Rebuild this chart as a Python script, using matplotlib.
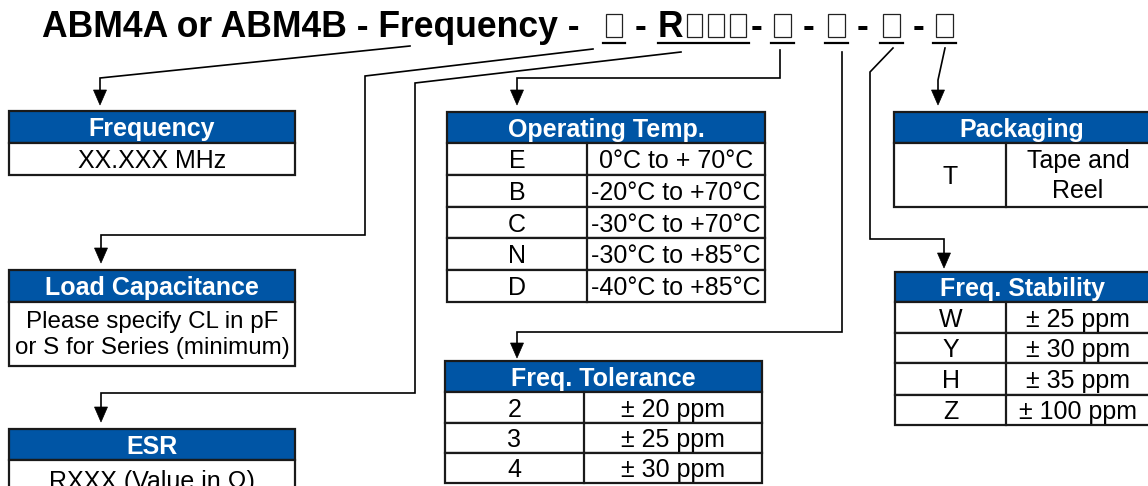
import matplotlib
matplotlib.use("Agg")
import matplotlib.pyplot as plt
from matplotlib.patches import Rectangle, Polygon

plt.rcParams['font.family'] = ['Liberation Sans', 'DejaVu Sans']

BLUE = '#0055a5'
EDGE = '#1a1a1a'

# part number pieces
title_main = "ABM4A or ABM4B - Frequency -"
title_dashes = ["-", "-", "-", "-", "-"]
title_letter = "R"

# tables
freq_title = "Frequency"
freq_rows = ["XX.XXX MHz"]

load_title = "Load Capacitance"
load_rows = ["Please specify CL in pF\nor S for Series (minimum)"]

esr_title = "ESR"
esr_rows = ["RXXX (Value in \u03a9)"]

temp_title = "Operating Temp."
temp_codes = ["E", "B", "C", "N", "D"]
temp_ranges = ["0\u00b0C to + 70\u00b0C", "-20\u00b0C to +70\u00b0C", "-30\u00b0C to +70\u00b0C",
               "-30\u00b0C to +85\u00b0C", "-40\u00b0C to +85\u00b0C"]

tol_title = "Freq. Tolerance"
tol_codes = ["2", "3", "4"]
tol_values = ["\u00b1 20 ppm", "\u00b1 25 ppm", "\u00b1 30 ppm"]

pack_title = "Packaging"
pack_codes = ["T"]
pack_values = ["Tape and\nReel"]

stab_title = "Freq. Stability"
stab_codes = ["W", "Y", "H", "Z"]
stab_values = ["\u00b1 25 ppm", "\u00b1 30 ppm", "\u00b1 35 ppm", "\u00b1 100 ppm"]


fig = plt.figure(figsize=(11.48, 4.86), dpi=100)
ax = fig.add_axes([0, 0, 1, 1])
ax.set_xlim(0, 1148)
ax.set_ylim(486, 0)
ax.axis('off')


def cell_text(x, y, h, s, fs=18, linespacing=1.1, **kw):
    # baseline placed so that cap height is centred in the cell
    if '\n' not in s:
        ax.text(x, y + h / 2 + 9, s, fontsize=fs, ha='center', va='baseline', **kw)
    else:
        ax.text(x, y + h / 2 + 1, s, fontsize=fs, ha='center', va='center',
                linespacing=linespacing, **kw)


def table(x0, x1, top, head_h, row_hs, title, left, right=None, xdiv=None,
          fs=18, body_fs=18, linespacing=1.1):
    ax.add_patch(Rectangle((x0, top), x1 - x0, head_h, fc=BLUE, ec=EDGE, lw=1.6))
    cell_text((x0 + x1) / 2, top, head_h, title, fs=fs, color='white', fontweight='bold')
    y = top + head_h
    for i, h in enumerate(row_hs):
        ax.add_patch(Rectangle((x0, y), x1 - x0, h, fc='white', ec=EDGE, lw=1.6))
        if right is None:
            cell_text((x0 + x1) / 2, y, h, left[i], fs=body_fs, linespacing=linespacing)
        else:
            ax.plot([xdiv, xdiv], [y, y + h], color=EDGE, lw=1.6)
            cell_text((x0 + xdiv) / 2, y, h, left[i], fs=body_fs)
            cell_text((xdiv + x1) / 2, y, h, right[i], fs=body_fs, linespacing=linespacing)
        y += h


def connector(pts, tip):
    xs = [p[0] for p in pts]
    ys = [p[1] for p in pts]
    x_end = xs[-1]
    xs.append(x_end)
    ys.append(tip - 15)
    ax.plot(xs, ys, color='black', lw=1.2, solid_joinstyle='miter')
    ax.add_patch(Polygon([(x_end - 6.5, tip - 15), (x_end + 6.5, tip - 15), (x_end, tip)],
                         closed=True, fc='black', ec='black', lw=0.5))


# title line
TFS = 25.6
ax.text(42, 37, title_main, fontsize=TFS, fontweight='bold', ha='left', va='baseline')
ax.text(658, 37, title_letter, fontsize=TFS, fontweight='bold', ha='left', va='baseline')
for xc, d in zip([641, 756, 808, 862, 918], title_dashes):
    ax.text(xc, 37, d, fontsize=TFS, fontweight='bold', ha='center', va='baseline')

slots = [(603, 625), (684, 705), (705, 727), (727, 749), (771, 794), (825, 848), (880, 903), (933, 956)]
for a, b in slots:
    ax.add_patch(Rectangle((a + 3, 14), b - a - 6, 23, fc='none', ec='#222222', lw=0.9))
for a, b in [(603, 625), (658, 749), (771, 794), (825, 848), (880, 903), (933, 956)]:
    ax.plot([a, b], [43, 43], color='black', lw=1.6)

# connectors
connector([(410, 46), (100, 78)], 105)
connector([(593, 49), (365, 76), (365, 235), (101, 235)], 263)
connector([(681, 52), (415, 83), (415, 393), (101, 393)], 422)
connector([(780, 50), (780, 78), (517, 78)], 105)
connector([(842, 52), (842, 332), (517, 332)], 358)
connector([(893, 48), (870, 72), (870, 239), (944, 239)], 268)
connector([(945, 48), (938, 80)], 105)

# tables
table(9, 295, 111, 32, [32], freq_title, freq_rows)
table(9, 295, 270, 32, [64], load_title, load_rows, body_fs=17.4, linespacing=1.22)
table(9, 295, 429, 31, [40], esr_title, esr_rows)
table(447, 765, 112, 31, [32, 32, 31, 32, 32], temp_title, temp_codes, temp_ranges, xdiv=587)
table(445, 762, 361, 31, [31, 30, 30], tol_title, tol_codes, tol_values, xdiv=584)
table(894, 1150, 112, 31, [64], pack_title, pack_codes, pack_values, xdiv=1006, linespacing=1.32)
table(895, 1150, 272, 30, [31, 30, 32, 30], stab_title, stab_codes, stab_values, xdiv=1006)

fig.savefig('out.png', dpi=100)
